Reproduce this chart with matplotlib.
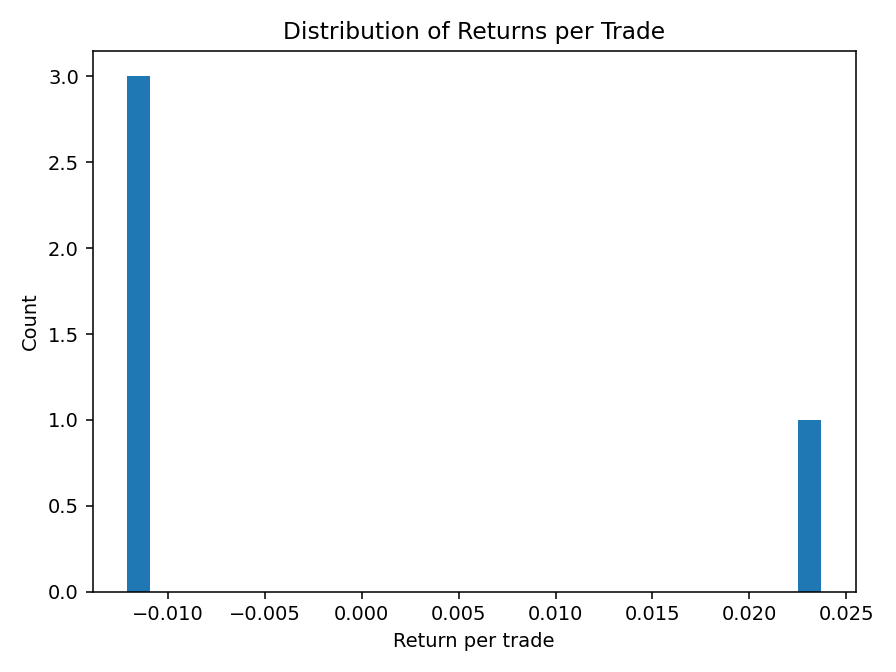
import matplotlib
matplotlib.use('Agg')
import matplotlib.pyplot as plt

# Returns per trade
returns = [-0.0121, -0.0121, -0.0121, 0.0237]
n_bins = 30

fig, ax = plt.subplots(figsize=(6.4, 4.8), dpi=140)

ax.hist(returns, bins=n_bins, color='#1f77b4')

ax.set_title('Distribution of Returns per Trade')
ax.set_xlabel('Return per trade')
ax.set_ylabel('Count')

plt.tight_layout()
plt.savefig('out.png', dpi=140)
